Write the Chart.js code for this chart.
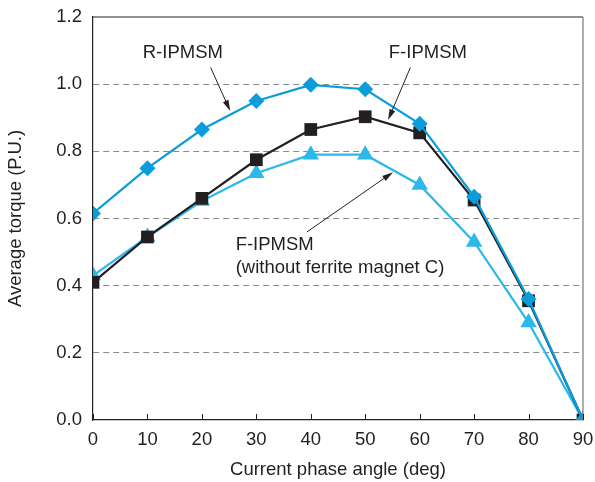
<!DOCTYPE html>
<html>
<head>
<meta charset="utf-8">
<script src="https://cdn.jsdelivr.net/npm/chart.js@4"></script>
<style>
  html, body { margin: 0; padding: 0; background: #fff; }
  #wrap { width: 595px; height: 482px; }
</style>
</head>
<body>
<div id="wrap"><canvas id="chart" width="595" height="482"></canvas></div>
<script>
// data
const angles = [0, 10, 20, 30, 40, 50, 60, 70, 80, 90];
const rIpmsm = [0.615, 0.75, 0.865, 0.95, 0.998, 0.985, 0.882, 0.665, 0.36, 0.0];
const fIpmsm = [0.41, 0.545, 0.66, 0.775, 0.865, 0.903, 0.855, 0.655, 0.355, 0.0];
const fNoFerrite = [0.43, 0.545, 0.652, 0.735, 0.79, 0.79, 0.70, 0.53, 0.29, 0.0];
const yTicks = [0, 0.2, 0.4, 0.6, 0.8, 1.0, 1.2];

// labels + arrows, in data units
const notes = [
    { lines: ['R-IPMSM'], x: 16.5, y: 1.093, align: 'center', from: [21.6, 1.05], to: [25.2, 0.92] },
    { lines: ['F-IPMSM'], x: 61.5, y: 1.093, align: 'center', from: [58.3, 1.05], to: [54.2, 0.893] },
    { lines: ['F-IPMSM', '(without ferrite magnet C)'], x: 26.2, y: 0.522, align: 'left', from: [39.3, 0.56], to: [55.1, 0.738] }
];

const FONT = '"Liberation Sans", Arial, sans-serif';
const FS = 18.5;

const annotate = {
    id: 'annotate',
    afterDatasetsDraw(chart) {
        const ctx = chart.ctx;
        const xs = chart.scales.x, ys = chart.scales.y;
        const area = chart.chartArea;
        ctx.save();

        // top and right frame
        ctx.lineWidth = 1.2;
        ctx.strokeStyle = '#222';
        ctx.beginPath();
        ctx.moveTo(area.left, area.top);
        ctx.lineTo(area.right, area.top);
        ctx.stroke();
        ctx.strokeStyle = '#777';
        ctx.beginPath();
        ctx.moveTo(area.right, area.top);
        ctx.lineTo(area.right, area.bottom);
        ctx.stroke();

        // inward ticks
        ctx.strokeStyle = '#222';
        ctx.lineWidth = 1;
        angles.forEach(a => {
            const px = Math.round(xs.getPixelForValue(a)) + 0.5;
            ctx.beginPath();
            ctx.moveTo(px, area.bottom);
            ctx.lineTo(px, area.bottom - 6);
            ctx.stroke();
        });

        // arrows
        ctx.strokeStyle = '#222';
        ctx.fillStyle = '#222';
        notes.forEach(n => {
            const x1 = xs.getPixelForValue(n.from[0]), y1 = ys.getPixelForValue(n.from[1]);
            const x2 = xs.getPixelForValue(n.to[0]), y2 = ys.getPixelForValue(n.to[1]);
            const ang = Math.atan2(y2 - y1, x2 - x1);
            const len = 11, half = 3;
            ctx.lineWidth = 1;
            ctx.beginPath();
            ctx.moveTo(x1, y1);
            ctx.lineTo(x2 - Math.cos(ang) * len * 0.8, y2 - Math.sin(ang) * len * 0.8);
            ctx.stroke();
            ctx.beginPath();
            ctx.moveTo(x2, y2);
            ctx.lineTo(x2 - Math.cos(ang) * len - Math.sin(ang) * half, y2 - Math.sin(ang) * len + Math.cos(ang) * half);
            ctx.lineTo(x2 - Math.cos(ang) * len + Math.sin(ang) * half, y2 - Math.sin(ang) * len - Math.cos(ang) * half);
            ctx.closePath();
            ctx.fill();

            ctx.font = FS + 'px ' + FONT;
            ctx.fillStyle = '#231f20';
            ctx.textAlign = n.align;
            ctx.textBaseline = 'middle';
            const tx = xs.getPixelForValue(n.x), ty = ys.getPixelForValue(n.y);
            n.lines.forEach((t, i) => ctx.fillText(t, tx, ty + i * 23));
            ctx.fillStyle = '#222';
        });
        ctx.restore();
    }
};

new Chart(document.getElementById('chart'), {
    type: 'line',
    data: {
        datasets: [
            {
                label: 'R-IPMSM',
                data: angles.map((a, i) => ({ x: a, y: rIpmsm[i] })),
                borderColor: '#0b9ddb',
                backgroundColor: '#0b9ddb',
                borderWidth: 2.2,
                pointStyle: 'rectRot',
                pointRadius: 8,
                pointBorderWidth: 0
            },
            {
                label: 'F-IPMSM',
                data: angles.map((a, i) => ({ x: a, y: fIpmsm[i] })),
                borderColor: '#231f20',
                backgroundColor: '#231f20',
                borderWidth: 2.2,
                pointStyle: 'rect',
                pointRadius: 9,
                pointBorderWidth: 0
            },
            {
                label: 'F-IPMSM (without ferrite magnet C)',
                data: angles.map((a, i) => ({ x: a, y: fNoFerrite[i] })),
                borderColor: '#2cb8ea',
                backgroundColor: '#2cb8ea',
                borderWidth: 2.2,
                pointStyle: 'triangle',
                pointRadius: 9.5,
                pointBorderWidth: 0
            }
        ]
    },
    options: {
        responsive: false,
        animation: false,
        layout: { padding: { top: 17, right: 12, left: 0, bottom: 0 } },
        plugins: { legend: { display: false }, tooltip: { enabled: false } },
        scales: {
            x: {
                type: 'linear',
                min: 0, max: 90,
                afterBuildTicks: s => { s.ticks = angles.map(v => ({ value: v })); },
                afterFit: s => { s.height = 62; s.paddingLeft = 0; s.paddingRight = 0; },
                ticks: { color: '#231f20', font: { family: FONT, size: FS }, padding: 9 },
                grid: { display: false, drawTicks: false },
                border: { color: '#222', width: 1.2 },
                title: { display: true, text: 'Current phase angle (deg)', color: '#231f20', font: { family: FONT, size: FS }, padding: { top: 0, bottom: 1 } }
            },
            y: {
                min: 0, max: 1.2,
                afterBuildTicks: s => { s.ticks = yTicks.map(v => ({ value: v })); },
                afterFit: s => { s.width = 93; s.paddingTop = 0; s.paddingBottom = 0; },
                ticks: { color: '#231f20', font: { family: FONT, size: FS }, padding: 11, callback: v => v.toFixed(1) },
                grid: {
                    drawTicks: false,
                    color: c => (c.tick.value > 0.01 && c.tick.value < 1.19) ? '#8a8a8a' : 'rgba(0,0,0,0)',
                    lineWidth: 1
                },
                border: { color: '#222', width: 1.2, dash: [6, 4] },
                title: { display: true, text: 'Average torque (P.U.)', color: '#231f20', font: { family: FONT, size: FS }, padding: { top: 5, bottom: 0 } }
            }
        }
    },
    plugins: [annotate]
});
</script>
</body>
</html>
